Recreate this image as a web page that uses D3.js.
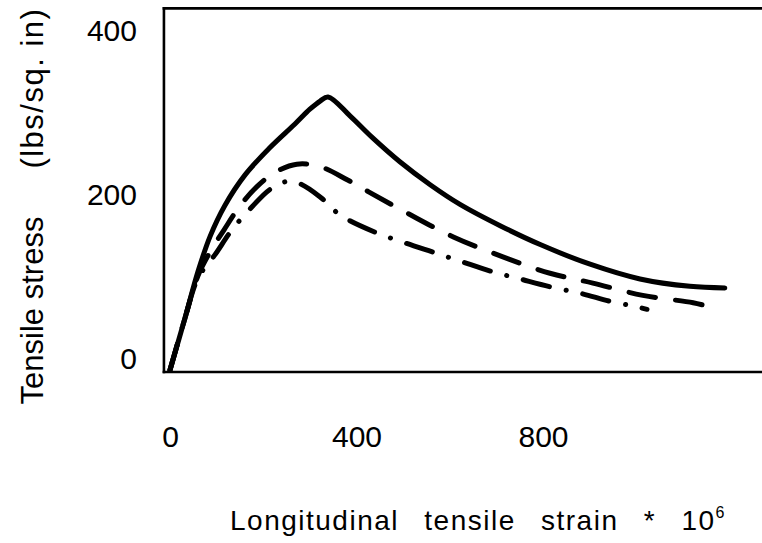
<!DOCTYPE html>
<html><head><meta charset="utf-8">
<script src="https://cdn.jsdelivr.net/npm/d3@7"></script>
<style>body{margin:0;background:#fff;overflow:hidden}</style>
</head><body>
<svg id="c" width="762" height="543"></svg>
<script>
// ---- data ----
const xTicks = [0, 400, 800];
const yTicks = [0, 200, 400];

const solidStrain  = [0, 32, 60, 86, 118, 161, 214, 268, 300, 322, 339, 386, 433, 493, 558, 622, 708, 794, 901, 1008, 1115, 1190];
const solidStress  = [0, 63, 120, 163, 201, 238, 271, 300, 318, 328, 333, 310, 284, 254, 226, 202, 176, 153, 129, 111, 102, 100];

const dashedStrain = [0, 32, 60, 86, 116, 150, 187, 225, 272, 322, 380, 427, 510, 609, 714, 815, 907, 1014, 1122, 1158];
const dashedStress = [0, 63, 115, 144, 171, 200, 224, 241, 251, 248, 232, 217, 191, 162, 138, 118, 106, 91, 82, 77];

const dotStrain    = [0, 32, 60, 97, 133, 176, 214, 251, 279, 322, 365, 440, 504, 568, 626, 691, 751, 819, 884, 942, 993, 1023];
const dotStress    = [0, 63, 112, 141, 171, 199, 220, 230, 227, 211, 189, 168, 155, 143, 132, 120, 111, 101, 93, 84, 78, 74];

const xLabel = "Longitudinal tensile strain * 10";
const xLabelSup = "6";
const yLabelA = "Tensile stress";
const yLabelB = "(lbs/sq. in)";

// ---- drawing ----
const svg = d3.select("#c");
const x = d3.scaleLinear().domain([0, 800]).range([170, 543]);
const y = d3.scaleLinear().domain([0, 400]).range([370, 42]);

// frame: top, left and bottom edges (right edge lies outside the picture)
const fx0 = x(-13), fx1 = x(1272), fy0 = y(-2.4), fy1 = y(441);
[[fx0, fy1, fx1, fy1], [fx0, fy1, fx0, fy0], [fx0, fy0, fx1, fy0]].forEach(s => {
  svg.append("line").attr("x1", s[0]).attr("y1", s[1]).attr("x2", s[2]).attr("y2", s[3])
    .attr("stroke", "#000").attr("stroke-width", 2.6).attr("stroke-linecap", "square");
});

const line = d3.line().x(d => x(d[0])).y(d => y(d[1])).curve(d3.curveCatmullRom.alpha(0.5));
const series = [
  {sx: solidStrain, sy: solidStress, dash: null},
  {sx: dashedStrain, sy: dashedStress, dash: "27,20"},
  {sx: dotStrain, sy: dotStress, dash: "27,17,0.1,17"}
];
series.forEach(s => {
  svg.append("path")
    .attr("d", line(s.sx.map((v, i) => [v, s.sy[i]])))
    .attr("fill", "none").attr("stroke", "#000").attr("stroke-width", 5)
    .attr("stroke-linecap", "round").attr("stroke-linejoin", "round")
    .attr("stroke-dasharray", s.dash);
});

const font = "'Liberation Sans', Arial, sans-serif";

const gy = svg.append("g").attr("transform", "translate(140,-11)")
  .call(d3.axisLeft(y).tickValues(yTicks).tickSize(0).tickPadding(3));
gy.select(".domain").remove();
gy.selectAll("text").attr("font-size", 30).attr("font-family", font).attr("fill", "#000");

const gx = svg.append("g").attr("transform", "translate(0,372)")
  .call(d3.axisBottom(x).tickValues(xTicks).tickSize(0).tickPadding(54));
gx.select(".domain").remove();
gx.selectAll("text").attr("font-size", 30).attr("font-family", font).attr("fill", "#000");

const xl = svg.append("text").attr("x", 478).attr("y", 530)
  .attr("text-anchor", "middle").attr("font-family", font).attr("font-size", 28)
  .attr("letter-spacing", 1.5).attr("word-spacing", 16).attr("fill", "#000")
  .text(xLabel);
xl.append("tspan").attr("dy", -12).attr("font-size", 16).text(xLabelSup);

const yl = svg.append("text").attr("transform", "translate(43,206) rotate(-90)")
  .attr("text-anchor", "middle").attr("font-family", font).attr("font-size", 31)
  .attr("fill", "#000");
yl.append("tspan").text(yLabelA);
yl.append("tspan").attr("dx", 48).attr("letter-spacing", 1.5).text(yLabelB);
</script>
</body></html>
